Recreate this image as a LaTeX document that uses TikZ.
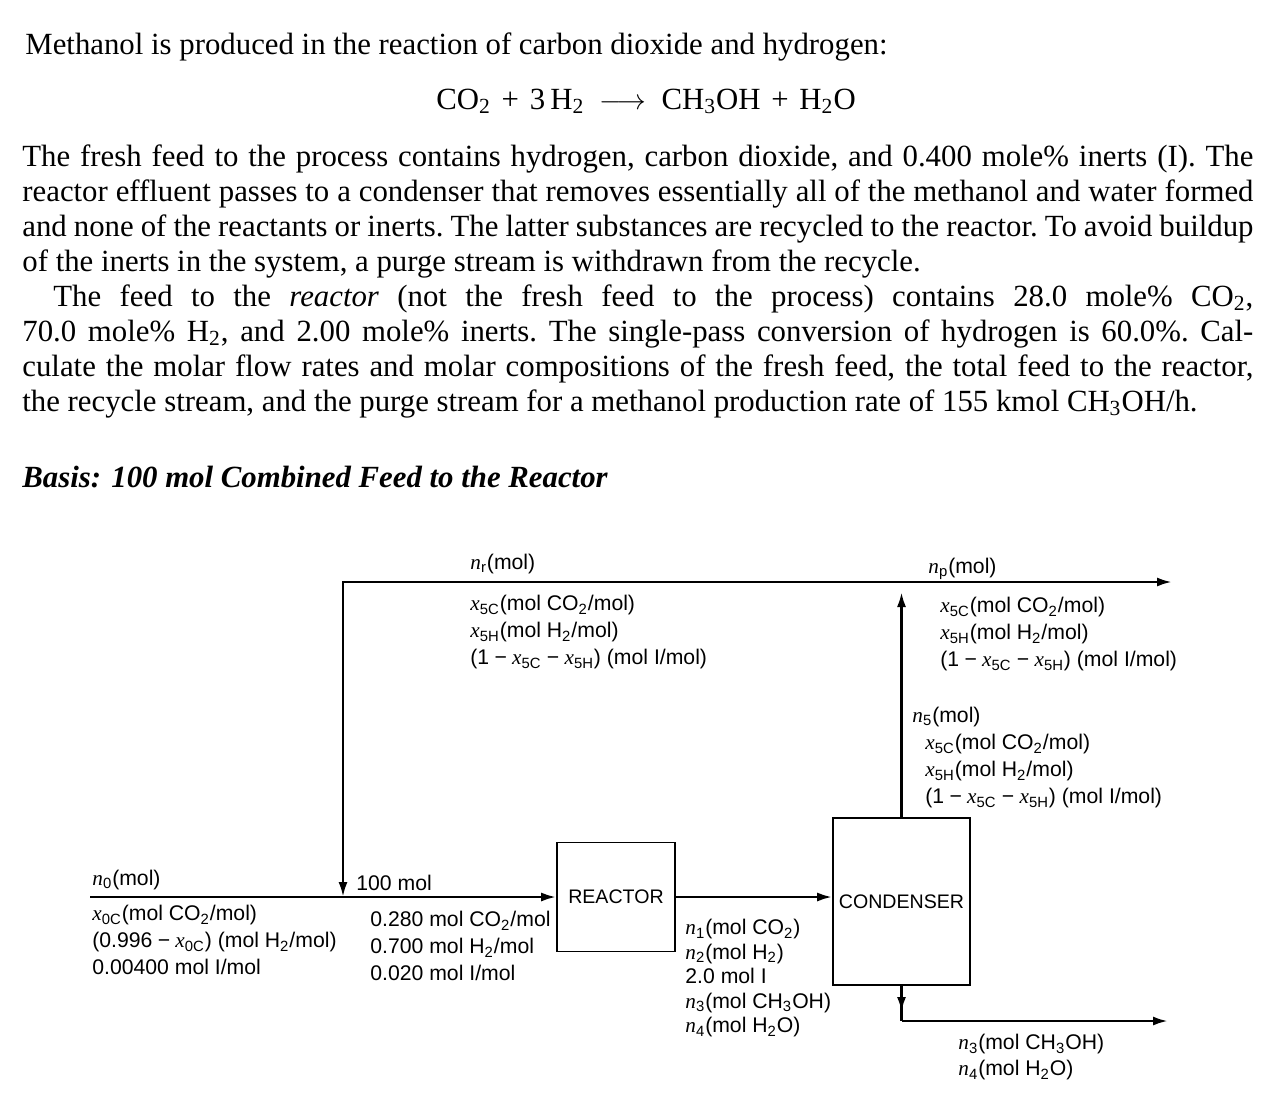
\documentclass[tikz,border=0pt]{standalone}
\usepackage{fontspec}
\setmainfont{Liberation Serif}
\setsansfont{Liberation Sans}
\usetikzlibrary{arrows.meta}
% italic process variable, upright sans subscript
\newcommand{\pv}[2]{{\rmfamily\itshape #1}\textsubscript{#2}}
\newcommand{\sub}[1]{\textsubscript{#1}}
\newcommand{\mn}{\hspace{0.25em}−\hspace{0.25em}}
\begin{document}
\begin{tikzpicture}[x=0.5pt,y=-0.5pt,
  bodytext/.style={inner sep=0pt, font=\fontsize{15.4}{17.5}\selectfont\frenchspacing},
  lbl/.style={inner sep=0pt, font=\sffamily\fontsize{10.6}{13.5}\selectfont, align=left},
  unit/.style={draw, line width=0.8pt, inner sep=0pt, font=\sffamily\fontsize{9.8}{12}\selectfont},
  pipe/.style={line width=1.3pt},
  flow/.style={pipe, -{Latex[length=7.5pt,width=4.5pt]}}]
\fill[white] (0,0) rectangle (1277,1092);
\useasboundingbox (0,0) rectangle (1277,1092);

% problem statement
\node[bodytext, anchor=base west] (intro) at (25,54)
  {Methanol is produced in the reaction of carbon dioxide and hydrogen:};
\node[bodytext, anchor=base] (eqn) at (646,109)
  {CO\sub{2}\hspace{0.35em}+\hspace{0.35em}3\,H\sub{2}\hspace{0.5em}$\longrightarrow$\hspace{0.5em}CH\sub{3}OH\hspace{0.35em}+\hspace{0.35em}H\sub{2}O};
\node[bodytext, anchor=north west, text width=615.5pt, align=justify] (problem) at (22,144)
  {The fresh feed to the process contains hydrogen, carbon dioxide, and 0.400 mole\% inerts (I). The\linebreak
   reactor effluent passes to a condenser that removes essentially all of the methanol and water formed\linebreak
   and none of the reactants or inerts. The latter substances are recycled to the reactor. To avoid buildup\linebreak
   of the inerts in the system, a purge stream is withdrawn from the recycle.\par
   \hspace*{15.5pt}The feed to the \emph{reactor} (not the fresh feed to the process) contains 28.0 mole\% CO\sub{2},\linebreak
   70.0 mole\% H\sub{2}, and 2.00 mole\% inerts. The single-pass conversion of hydrogen is 60.0\%. Cal-\linebreak
   culate the molar flow rates and molar compositions of the fresh feed, the total feed to the reactor,\linebreak
   the recycle stream, and the purge stream for a methanol production rate of 155 kmol CH\sub{3}OH/h.};
\node[inner sep=0pt, anchor=base west, font=\fontsize{15.4}{17}\selectfont\bfseries\itshape] (basis) at (22,487)
  {Basis: 100 mol Combined Feed to the Reactor};

% process units
\node[unit, minimum width=59pt, minimum height=54.5pt] (reactor) at (616,897) {REACTOR};
\node[unit, minimum width=68.5pt, minimum height=83.5pt] (condenser) at (901.5,901.5) {CONDENSER};

% stream junctions and ends
\coordinate (feedin) at (90,897);
\coordinate (mix) at (343,897);
\coordinate (rcorner) at (343,582);
\coordinate (split) at (901.5,582);
\coordinate (uptip) at (901.5,592);
\coordinate (purgeend) at (1172,582);
\coordinate (downtip) at (901.5,1012);
\coordinate (pcorner) at (901.5,1021);
\coordinate (prodend) at (1168,1021);

% streams
\draw[flow] (feedin) -- (reactor.west);
\draw[flow] (reactor.east) -- (reactor.east -| condenser.west);
\draw[flow] (condenser.north) -- (uptip);
\draw[flow] (rcorner) -- (purgeend);
\draw[flow] (split) -- (rcorner) -- (mix);
\draw[pipe] (condenser.south) -- (pcorner);
\draw[flow] (condenser.south) -- (downtip);
\draw[flow] (pcorner) -- (prodend);

% stream labels
\node[lbl, anchor=base west] (nr) at (470,569) {\pv{n}{r}(mol)};
\node[lbl, anchor=north west] (recyc) at (470,595)
  {\pv{x}{5C}(mol CO\sub{2}/mol)\\ \pv{x}{5H}(mol H\sub{2}/mol)\\ (1\mn\pv{x}{5C}\mn\pv{x}{5H}) (mol I/mol)};
\node[lbl, anchor=base west] (np) at (928,573) {\pv{n}{p}(mol)};
\node[lbl, anchor=north west] (purge) at (940,597)
  {\pv{x}{5C}(mol CO\sub{2}/mol)\\ \pv{x}{5H}(mol H\sub{2}/mol)\\ (1\mn\pv{x}{5C}\mn\pv{x}{5H}) (mol I/mol)};
\node[lbl, anchor=base west] (n5) at (912,722) {\pv{n}{5}(mol)};
\node[lbl, anchor=north west] (gas) at (925,734)
  {\pv{x}{5C}(mol CO\sub{2}/mol)\\ \pv{x}{5H}(mol H\sub{2}/mol)\\ (1\mn\pv{x}{5C}\mn\pv{x}{5H}) (mol I/mol)};
\node[lbl, anchor=base west] (n0) at (92,885) {\pv{n}{0}(mol)};
\node[lbl, anchor=north west] (fresh) at (92,905)
  {\pv{x}{0C}(mol CO\sub{2}/mol)\\ (0.996\mn\pv{x}{0C}) (mol H\sub{2}/mol)\\ 0.00400 mol I/mol};
\node[lbl, anchor=base west] (hundred) at (356,890) {100 mol};
\node[lbl, anchor=north west] (feed) at (370,911)
  {0.280 mol CO\sub{2}/mol\\ 0.700 mol H\sub{2}/mol\\ 0.020 mol I/mol};
\node[lbl, anchor=north west, font=\sffamily\fontsize{10.6}{12.25}\selectfont] (effluent) at (685,919)
  {\pv{n}{1}(mol CO\sub{2})\\ \pv{n}{2}(mol H\sub{2})\\ 2.0 mol I\\ \pv{n}{3}(mol CH\sub{3}OH)\\ \pv{n}{4}(mol H\sub{2}O)};
\node[lbl, anchor=north west, font=\sffamily\fontsize{10.6}{13}\selectfont] (product) at (958,1034)
  {\pv{n}{3}(mol CH\sub{3}OH)\\ \pv{n}{4}(mol H\sub{2}O)};
\end{tikzpicture}
\end{document}
